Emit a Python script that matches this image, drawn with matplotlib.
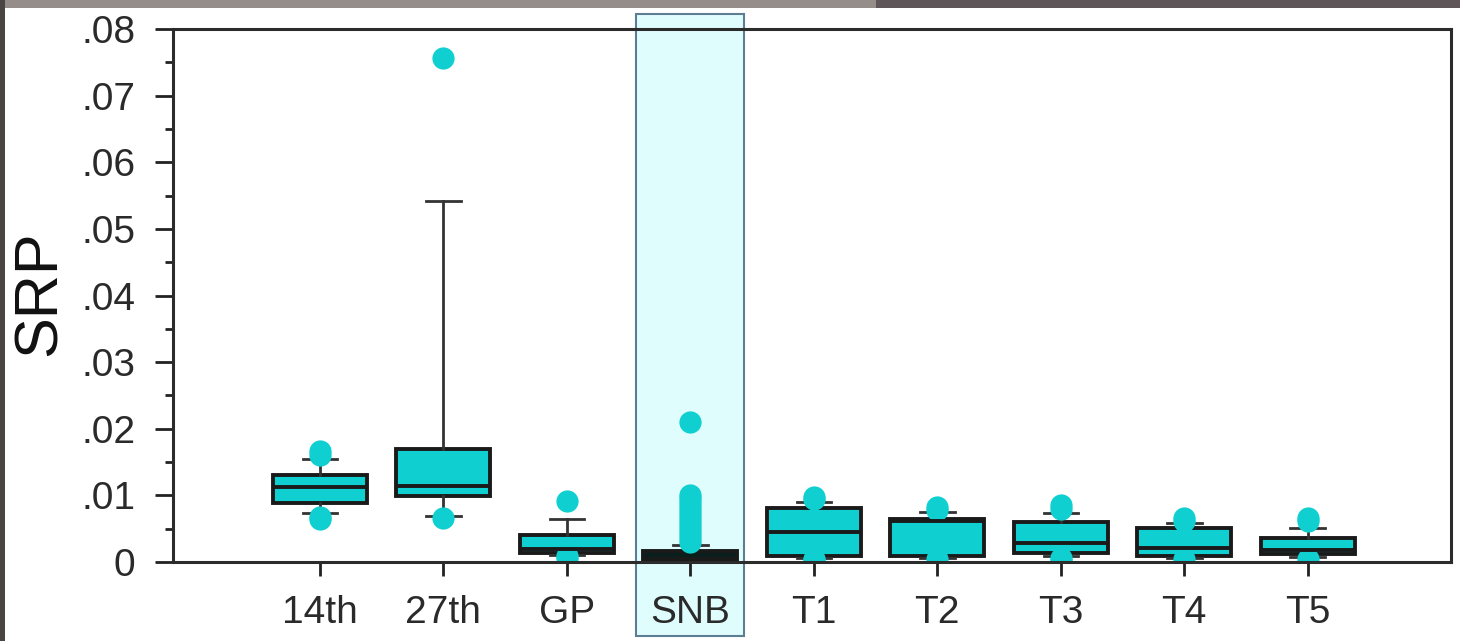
import matplotlib.pyplot as plt
import matplotlib.transforms as mtransforms
from matplotlib.patches import Rectangle
from matplotlib.ticker import FuncFormatter, MultipleLocator

plt.rcParams['font.family'] = ['Liberation Sans', 'DejaVu Sans']

sites = ['14th', '27th', 'GP', 'SNB', 'T1', 'T2', 'T3', 'T4', 'T5']
q1 = [0.0089, 0.0099, 0.0013, 0.0001, 0.0009, 0.0009, 0.0013, 0.0009, 0.0012]
med = [0.0113, 0.0114, 0.0019, 0.0004, 0.0045, 0.0062, 0.0029, 0.0021, 0.0018]
q3 = [0.0130, 0.0170, 0.0040, 0.0016, 0.0081, 0.0065, 0.0060, 0.0051, 0.0036]
whislo = [0.0074, 0.0069, 0.0011, 0.0000, 0.0006, 0.0006, 0.0009, 0.0006, 0.0008]
whishi = [0.0155, 0.0542, 0.0065, 0.0026, 0.0090, 0.0075, 0.0074, 0.0058, 0.0051]
fliers = [
    [0.0160, 0.0166, 0.0068, 0.0064],
    [0.0757, 0.0066],
    [0.0091, 0.0009, 0.0006],
    [0.0030, 0.0036, 0.0042, 0.0048, 0.0054, 0.0060, 0.0066, 0.0072,
     0.0078, 0.0084, 0.0090, 0.0096, 0.0100, 0.0210],
    [0.0094, 0.0098, 0.0005, 0.0003],
    [0.0078, 0.0082, 0.0004],
    [0.0079, 0.0085, 0.0006, 0.0003],
    [0.0061, 0.0066, 0.0004],
    [0.0061, 0.0066, 0.0004],
]
highlight = 'SNB'

cyan = '#0fcfd0'
edge = '#1a1a1a'

fig = plt.figure(figsize=(14.6, 6.41), dpi=100, facecolor='white')
# dark edges of the photographed screen
fig.patches.append(Rectangle((0, 1 - 8 / 641), 0.6, 8 / 641, transform=fig.transFigure,
                             facecolor='#958d8a', edgecolor='none', zorder=5))
fig.patches.append(Rectangle((0.6, 1 - 8 / 641), 0.4, 8 / 641, transform=fig.transFigure,
                             facecolor='#5e5658', edgecolor='none', zorder=5))
fig.patches.append(Rectangle((0, 0), 5 / 1460, 1, transform=fig.transFigure,
                             facecolor='#4a4444', edgecolor='none', zorder=5))
ax = fig.add_axes([173 / 1460, 79 / 641, 1278 / 1460, 533 / 641])

stats = []
for i, s in enumerate(sites):
    stats.append(dict(label=s, q1=q1[i], med=med[i], q3=q3[i],
                      whislo=whislo[i], whishi=whishi[i], fliers=fliers[i]))

positions = list(range(len(sites)))
bp = ax.bxp(stats, positions=positions, widths=0.76, capwidths=0.28, patch_artist=True,
            boxprops=dict(facecolor=cyan, edgecolor=edge, linewidth=2.8),
            medianprops=dict(color=edge, linewidth=2.8),
            whiskerprops=dict(color='#333333', linewidth=2.0),
            capprops=dict(color='#333333', linewidth=2.0),
            flierprops=dict(marker='o', markersize=16, markerfacecolor=cyan,
                            markeredgecolor='none', linestyle='none'))
bp['boxes'][sites.index(highlight)].set_facecolor('#0b1e1e')

# highlighted column behind SNB
k = sites.index(highlight)
trans = mtransforms.blended_transform_factory(ax.transData, ax.transAxes)
ax.add_patch(Rectangle((k - 0.4375, -0.139), 0.875, 1.167, transform=trans,
                       facecolor='#e0fdfe', edgecolor='#5d7d92', linewidth=1.5,
                       clip_on=False, zorder=0.5))

ax.set_xlim(-1.19, 9.16)
ax.set_ylim(0, 0.08)
ax.yaxis.set_major_locator(MultipleLocator(0.01))
ax.yaxis.set_minor_locator(MultipleLocator(0.005))
ax.yaxis.set_major_formatter(FuncFormatter(lambda v, p: '0' if abs(v) < 1e-9 else f'{v:.2f}'.lstrip('0')))
ax.set_xticks(positions)
ax.set_xticklabels(sites)

ax.tick_params(axis='y', which='major', length=13, width=2, pad=14, labelsize=28,
               labelcolor='#2a2a2a', color='#222222')
ax.tick_params(axis='y', which='minor', length=6, width=2, color='#222222')
ax.tick_params(axis='x', which='major', length=10, width=2, pad=14, labelsize=28,
               labelcolor='#2a2a2a', color='#222222')
for sp in ax.spines.values():
    sp.set_linewidth(2.2)
    sp.set_color('#2b2b2b')

fig.text(40 / 1460, 1 - 293 / 641, 'SRP', fontsize=44, color='#111111',
         rotation=90, ha='center', va='center')

fig.savefig('out.png', dpi=100, facecolor=fig.get_facecolor())
